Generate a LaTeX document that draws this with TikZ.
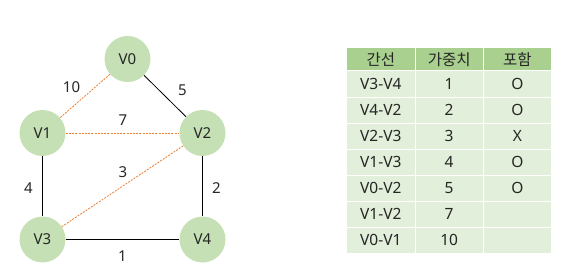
\documentclass[tikz,border=0pt]{standalone}
\usepackage{fontspec}
\setmainfont{Noto Sans}
\newfontfamily\kr{Noto Sans CJK KR}
\definecolor{nodegreen}{HTML}{C5E0B4}
\definecolor{hdrgreen}{HTML}{A9D08E}
\definecolor{cellgreen}{HTML}{E2EFDA}
\definecolor{edgeorange}{HTML}{ED7D31}
\definecolor{txt}{HTML}{262626}
\begin{document}
\begin{tikzpicture}[x=1pt,y=-1pt,
  vertex/.style={circle,fill=nodegreen,minimum size=46pt,inner sep=0pt,text=txt,font=\fontsize{15}{17}\selectfont},
  treeedge/.style={draw=black,line width=0.8pt},
  skipedge/.style={draw=edgeorange,line width=0.8pt,dash pattern=on 2pt off 1.2pt},
  wlabel/.style={text=txt,font=\fontsize{15}{17}\selectfont,inner sep=0pt},
  hcell/.style={rectangle,fill=hdrgreen,draw=white,line width=1pt,minimum width=68.3pt,minimum height=23pt,inner sep=0pt,text=txt,font=\kr\fontsize{15.5}{17}\selectfont},
  bcell/.style={rectangle,fill=cellgreen,draw=white,line width=1pt,minimum width=68.3pt,minimum height=26pt,inner sep=0pt,text=txt,font=\fontsize{15.5}{17}\selectfont}
]
\useasboundingbox (0,0) rectangle (578,278);

% vertices
\node[vertex] (V0) at (127.5,59) {V0};
\node[vertex] (V1) at (42.5,133) {V1};
\node[vertex] (V2) at (202.5,133) {V2};
\node[vertex] (V3) at (42.5,239.5) {V3};
\node[vertex] (V4) at (202.5,239.5) {V4};

% edges
\draw[skipedge] (V0) -- (V1);
\draw[skipedge] (V1) -- (V2);
\draw[skipedge] (V2) -- (V3);
\draw[treeedge] (V0) -- (V2);
\draw[treeedge] (V1) -- (V3);
\draw[treeedge] (V2) -- (V4);
\draw[treeedge] (V3) -- (V4);

% weights
\node[wlabel] (w10) at (71.5,87) {10};
\node[wlabel] (w5) at (182.5,90) {5};
\node[wlabel] (w7) at (123,120.5) {7};
\node[wlabel] (w3) at (123,172.5) {3};
\node[wlabel] (w4) at (28.5,188) {4};
\node[wlabel] (w2) at (216.5,188) {2};
\node[wlabel] (w1) at (122.5,256) {1};

% table header
\node[hcell] (h1) at (380.85,59.5) {간선};
\node[hcell] (h2) at (449.15,59.5) {가중치};
\node[hcell] (h3) at (517.45,59.5) {포함};

% table body
\foreach \e/\w/\inc [count=\i] in {V3-V4/1/O, V4-V2/2/O, V2-V3/3/X, V1-V3/4/O, V0-V2/5/O, V1-V2/7/, V0-V1/10/}{
  \node[bcell] (e\i) at (380.85,{71+13+26*(\i-1)}) {\e};
  \node[bcell] (w\i) at (449.15,{71+13+26*(\i-1)}) {\w};
  \node[bcell] (c\i) at (517.45,{71+13+26*(\i-1)}) {\inc};
}
\end{tikzpicture}
\end{document}
